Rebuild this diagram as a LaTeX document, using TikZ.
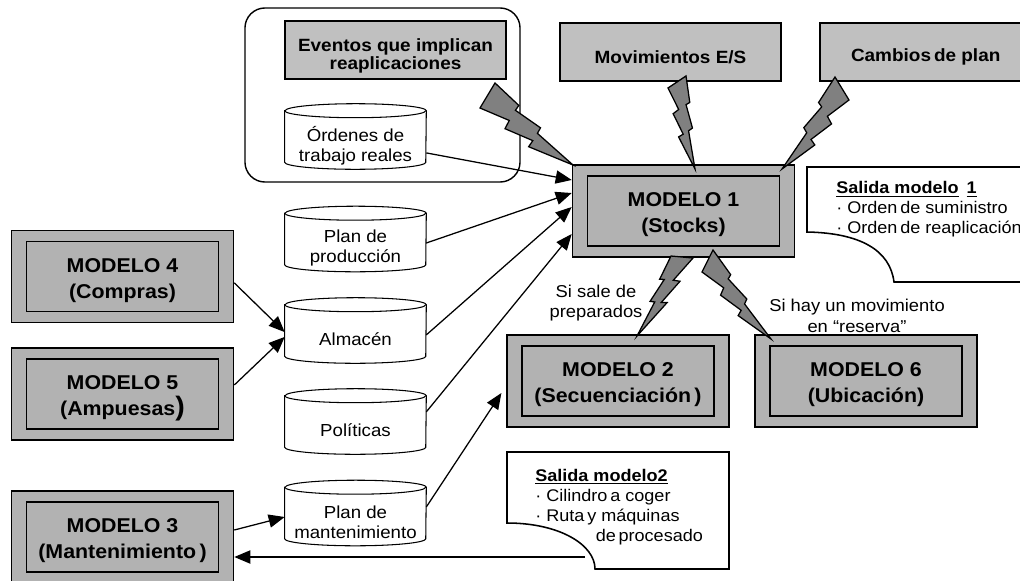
\documentclass[tikz,border=0pt]{standalone}
\usepackage{fontspec}
\setmainfont{Liberation Sans}[FakeStretch=1.07]
\usetikzlibrary{arrows.meta,calc}
\definecolor{cajagris}{RGB}{178,178,178}
\definecolor{eventogris}{RGB}{192,192,192}
\definecolor{rayogris}{RGB}{128,128,128}

% cylinder for a data store: name, centre of the body, text
\newcommand{\basedatos}[3]{%
  \node[cuerpo] (#1) at (#2) {};
  \draw[fill=white,line width=0.75pt] (#1.north west) -- (#1.south west)
    arc[start angle=180,end angle=360,x radius=1.7625cm,y radius=0.175cm]
    -- (#1.north east)
    arc[start angle=0,end angle=180,x radius=1.7625cm,y radius=0.175cm] -- cycle;
  \draw[line width=0.75pt] (#1.north west)
    arc[start angle=180,end angle=360,x radius=1.7625cm,y radius=0.175cm];
  \node[textodb] (#1t) at ([yshift=-0.225cm]#1.center) {#3};
}

% lightning bolt: name, wide end (two points), tip
\newcommand{\rayo}[4]{%
  \coordinate (#1a) at (#2);
  \coordinate (#1b) at (#3);
  \coordinate (#1t) at (#4);
  \filldraw[rayo] (#1a)
    -- (barycentric cs:#1a=0.771,#1b=-0.064,#1t=0.293)
    -- (barycentric cs:#1a=0.568,#1b=0.143,#1t=0.289)
    -- (barycentric cs:#1a=0.505,#1b=-0.074,#1t=0.569)
    -- (barycentric cs:#1a=0.287,#1b=0.142,#1t=0.571)
    -- (#1t)
    -- (barycentric cs:#1a=-0.260,#1b=0.695,#1t=0.565)
    -- (barycentric cs:#1a=-0.008,#1b=0.439,#1t=0.569)
    -- (barycentric cs:#1a=-0.157,#1b=0.863,#1t=0.294)
    -- (barycentric cs:#1a=0.160,#1b=0.551,#1t=0.289)
    -- (#1b) -- cycle;
}

\begin{document}
\begin{tikzpicture}[x=0.025cm,y=-0.025cm,
    exterior/.style={draw,line width=1.1pt,fill=cajagris,minimum width=5.55cm,minimum height=2.3cm,inner sep=0pt},
    interior/.style={draw,line width=1.1pt,minimum width=4.8cm,minimum height=1.75cm,inner sep=0pt},
    textomodelo/.style={align=center,inner sep=0pt,font=\fontsize{14.2}{18.6}\selectfont\bfseries},
    evento/.style={draw,line width=1.1pt,fill=eventogris,minimum width=5.525cm,minimum height=1.45cm},
    textoevento/.style={align=center,inner sep=0pt,font=\fontsize{12.6}{12.9}\selectfont\bfseries},
    cuerpo/.style={minimum width=3.525cm,minimum height=1.275cm,inner sep=0pt},
    textodb/.style={align=center,inner sep=0pt,font=\fontsize{12.4}{14.4}\selectfont},
    etiqueta/.style={align=center,inner sep=0pt,font=\fontsize{12.2}{14.8}\selectfont},
    textonota/.style={align=left,inner sep=0pt,anchor=west,font=\fontsize{12}{14.2}\selectfont},
    nota/.style={draw,line width=1.1pt,fill=white},
    flecha/.style={line width=0.9pt,-{Triangle[length=0.4cm,width=0.33cm]}},
    rayo/.style={fill=rayogris,draw=black,line width=0.9pt}]
\useasboundingbox (0,0) rectangle (1020,580);
\clip (0,0) rectangle (1020,580);

\node[draw,line width=1pt,rounded corners=0.5cm,minimum width=6.875cm,minimum height=4.35cm] (grupo) at (382.5,95) {};
\node[evento] (eventos) at (395.5,50) {};
\node[textoevento] (eventost) at ([yshift=-0.15cm]eventos.center) {Eventos que implican\\reaplicaciones};
\node[evento] (movim) at (670.5,52) {};
\node[textoevento] (movimt) at ([yshift=-0.12cm]movim.center) {Movimientos E/S};
\node[evento] (cambios) at (930.5,52) {};
\node[textoevento] (cambiost) at ([xshift=-0.12cm,yshift=-0.12cm]cambios.center) {Cambios\,de plan};

\basedatos{ordenes}{355.5,136.5}{Órdenes de\\trabajo reales}
\basedatos{pprod}{355.5,239}{Plan de\\producción}
\basedatos{almacen}{355.5,330.5}{Almacén}
\basedatos{politicas}{355.5,421.5}{Políticas}
\basedatos{pmant}{355.5,513}{Plan de\\mantenimiento}

\node[exterior] (m1) at (683.5,211) {};
\node[interior] (m1i) at (m1.center) {};
\node[textomodelo] (m1t) at ([yshift=-0.1cm]m1.center) {MODELO 1\\(Stocks)};
\node[exterior] (m2) at (618,381) {};
\node[interior] (m2i) at (m2.center) {};
\node[textomodelo] (m2t) at ([yshift=-0.1cm]m2.center) {MODELO 2\\(Secuenciación\,)};
\node[exterior] (m6) at (866,381) {};
\node[interior] (m6i) at (m6.center) {};
\node[textomodelo] (m6t) at ([yshift=-0.1cm]m6.center) {MODELO 6\\(Ubicación)};
\node[exterior] (m4) at (122.5,276.5) {};
\node[interior] (m4i) at (m4.center) {};
\node[textomodelo] (m4t) at ([yshift=-0.1cm]m4.center) {MODELO 4\\(Compras)};
\node[exterior] (m5) at (122.5,394) {};
\node[interior] (m5i) at (m5.center) {};
\node[textomodelo] (m5t) at ([yshift=-0.1cm]m5.center) {MODELO 5\\(Ampuesas{\fontsize{19}{19}\selectfont)}};
\node[exterior] (m3) at (122.5,537) {};
\node[interior] (m3i) at (m3.center) {};
\node[textomodelo] (m3t) at ([yshift=-0.1cm]m3.center) {MODELO 3\\(Mantenimiento\,)};

% notes
\draw[nota] (1030,167) -- (807,167) -- (807,232) .. controls (860,233) and (890,250) .. (894,282) -- (1030,282);
\node[textonota] (salida1) at (836,209.5) {\textbf{\underline{Salida modelo}\ \,\underline{1}}\\· Orden\,de suministro\\· Orden\,de reaplicación};
\draw[nota] (507,452) -- (729,452) -- (729,569) -- (595,569) .. controls (595,545) and (560,523) .. (507,523) -- cycle;
\node[textonota] (salida2) at (535,507) {\textbf{\underline{Salida modelo2}}\\· Cilindro\,a coger\\· Ruta\,y máquinas\\\hspace*{43pt}de\,procesado};
\coordinate (n2cola) at (585,557);

% arrows
\draw[flecha] ([yshift=-0.41cm]ordenes.east) -- ([yshift=0.775cm]m1.west);
\draw[flecha] ([yshift=-0.1cm]pprod.east) -- ([yshift=0.45cm]m1.west);
\draw[flecha] ([yshift=-0.11cm]almacen.east) -- ([yshift=0.1cm]m1.west);
\draw[flecha] ([yshift=0.24cm]politicas.east) -- ([yshift=-0.575cm]m1.west);
\draw[flecha] ([yshift=-0.16cm]m4.east) -- ([yshift=-0.04cm]almacen.west);
\draw[flecha] ([yshift=0.225cm]m5.east) -- ([yshift=-0.16cm]almacen.west);
\draw[flecha] ([yshift=0.175cm]m3.east) -- ([yshift=-0.1cm]pmant.west);
\draw[flecha] ([yshift=0.15cm]pmant.east) -- ([xshift=-0.12cm,yshift=-0.3cm]m2.west);
\draw[flecha] (n2cola) -- (n2cola -| m3.east);

% lightning bolts
\rayo{r1}{495,83}{480,108}{573,165}
\rayo{r2}{686,76}{668,88}{695,169}
\rayo{r3}{835,77}{849,100}{782,169}
\rayo{r4}{671,256}{693,258}{637,336}
\rayo{r5}{713,250}{702,272}{771,339}

\node[etiqueta] (sisale) at (596,303) {Si sale de\\preparados};
\node[etiqueta] (sihay) at (857,316) {Si hay un movimiento\\en “reserva”};
\end{tikzpicture}
\end{document}
